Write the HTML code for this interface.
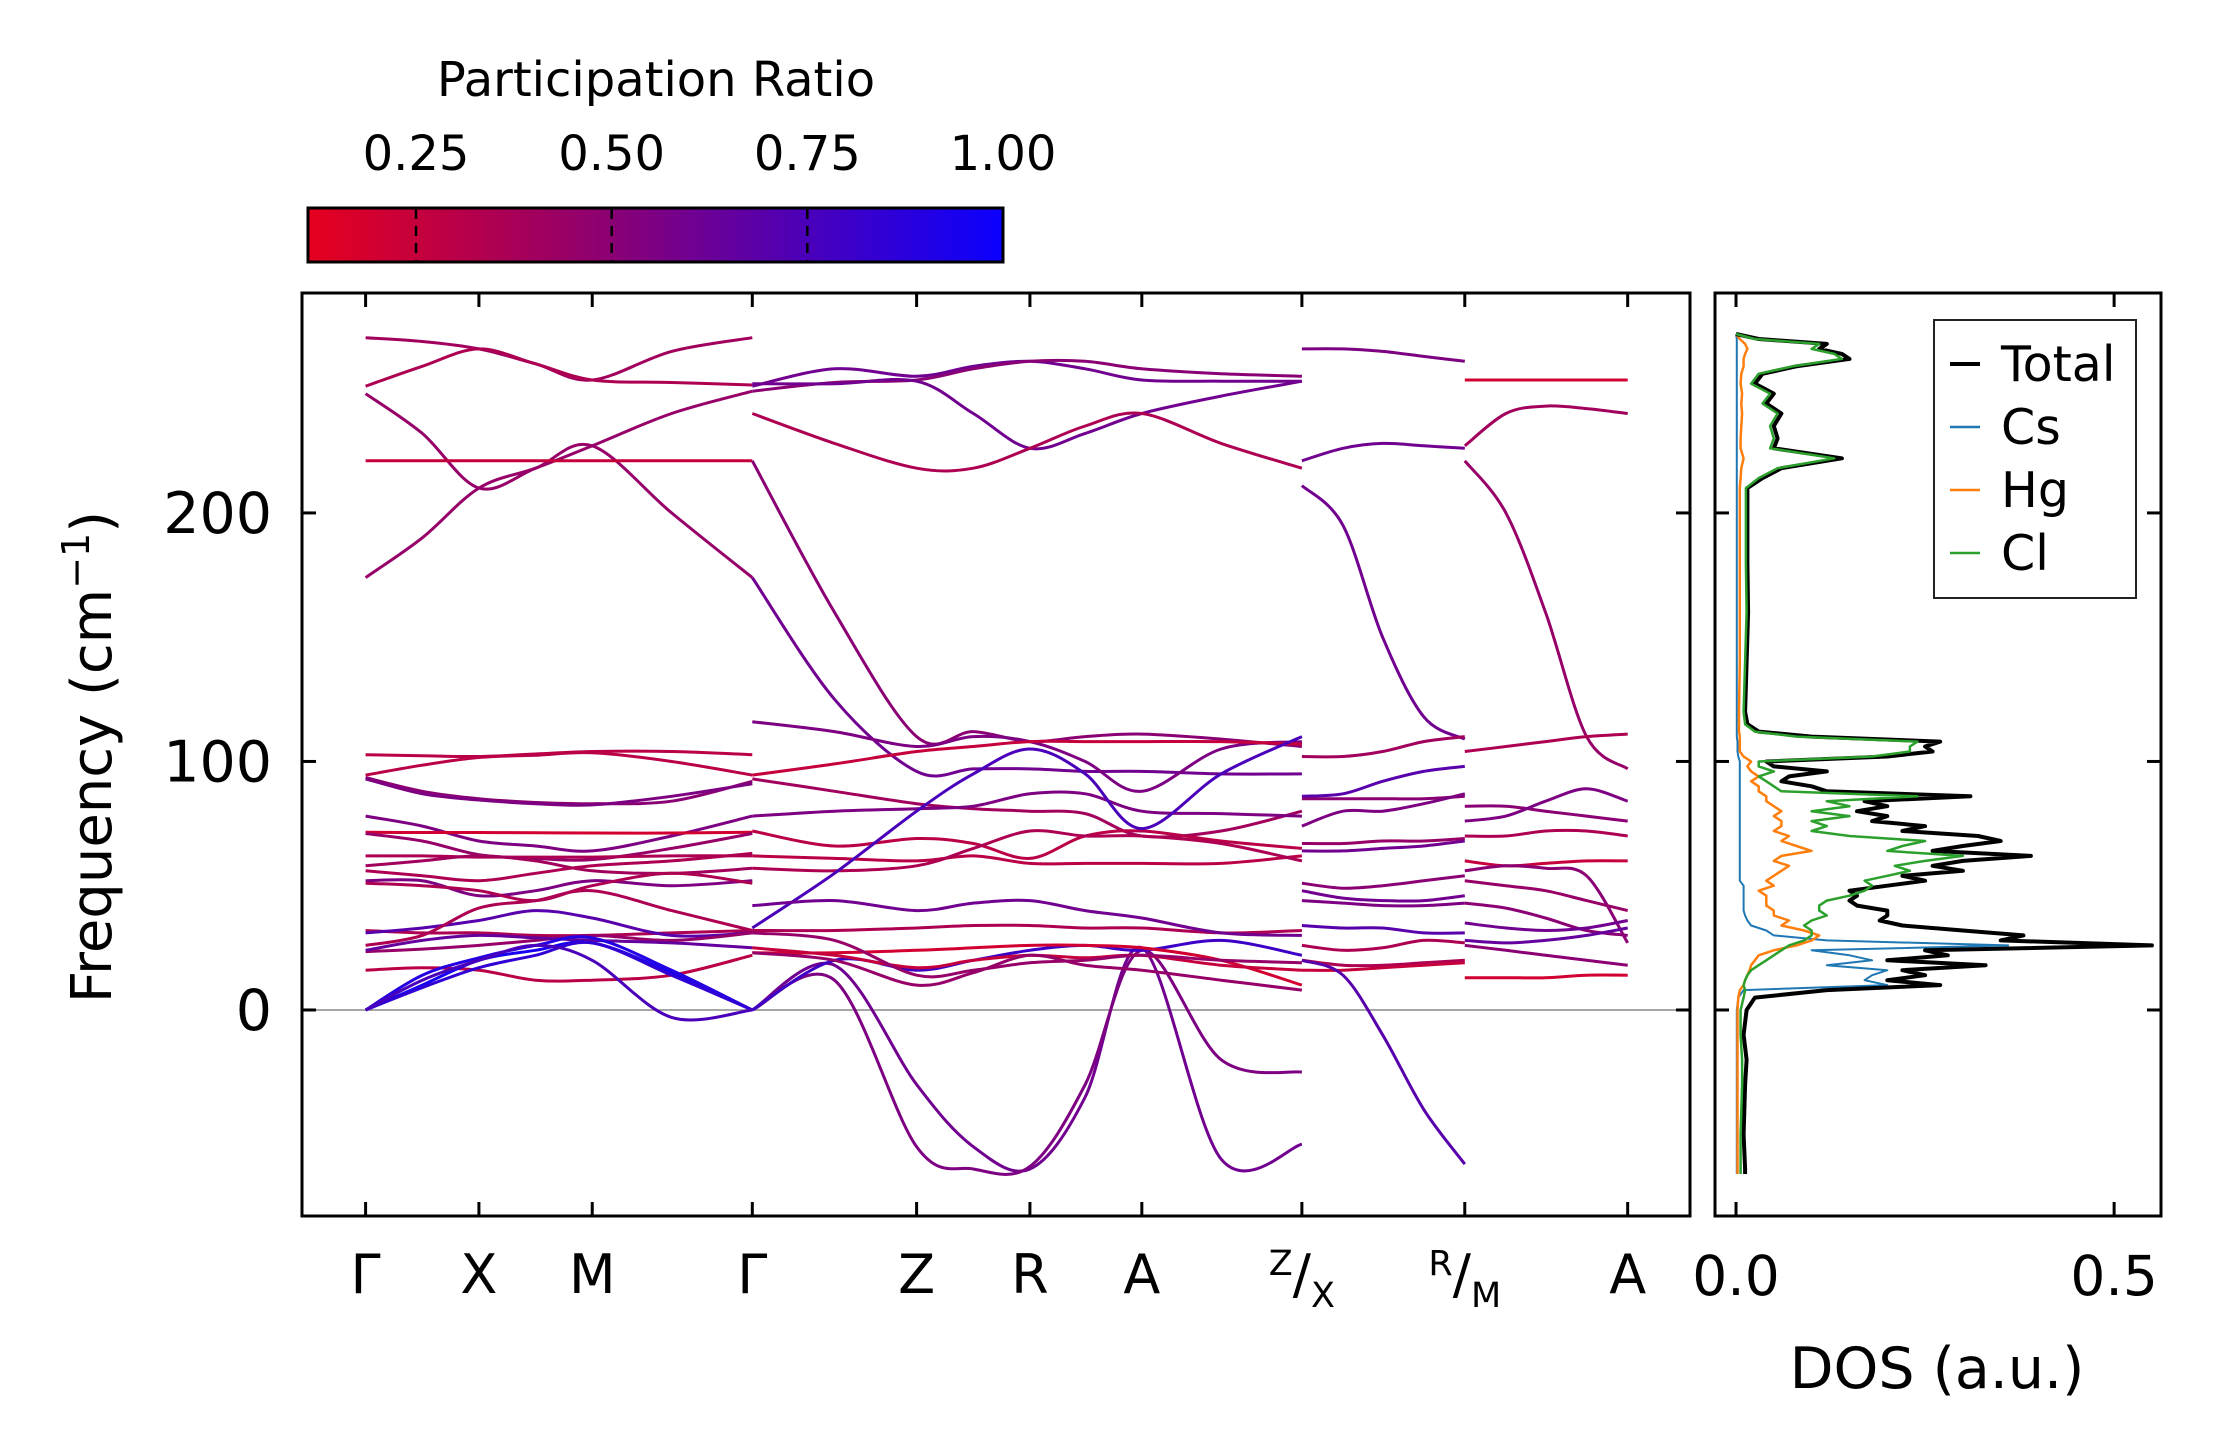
<!DOCTYPE html>
<html><head><meta charset="utf-8">
<style>
html,body{margin:0;padding:0;background:#fff;}
svg{display:block;font-family:"DejaVu Sans","Liberation Sans",sans-serif;}
</style></head>
<body>
<svg id="fig" width="2222" height="1455" viewBox="0 0 2222 1455" xmlns="http://www.w3.org/2000/svg">
  <defs>
    <linearGradient id="cbgrad" x1="0" x2="1" y1="0" y2="0">
      <stop offset="0" stop-color="#e6001e"/>
      <stop offset="0.42" stop-color="#8e0070"/>
      <stop offset="1" stop-color="#0a00ff"/>
    </linearGradient>
    <clipPath id="mainclip"><rect x="302" y="293" width="1388" height="923"/></clipPath>
    <clipPath id="dosclip"><rect x="1715" y="293" width="446" height="923"/></clipPath>
  </defs>
  <g id="colorbar">
    <text x="656" y="96" font-size="48" text-anchor="middle">Participation Ratio</text>
    <rect x="308" y="208" width="695" height="54" fill="url(#cbgrad)" stroke="#000" stroke-width="3"/>
    <g id="cbticks"></g>
  </g>
  <g id="main"></g>
  <g id="dos"></g>
</svg>
<script>
// ---------- Data ----------
var cbTicks = [0.25, 0.50, 0.75, 1.00];
var cbTickLabels = ["0.25", "0.50", "0.75", "1.00"];
var kTickPos = [0, 0.8, 1.6, 2.73, 3.89, 4.69, 5.48, 6.61, 7.76, 8.91];
var kTickLabels = ["Γ", "X", "M", "Γ", "Z", "R", "A", "Z/X", "R/M", "A"];
var yTicks = [0, 100, 200];
var dosTicks = [0.0, 0.5];
var dosTickLabels = ["0.0", "0.5"];

// k-sample positions of each path
var path1K = [0, 0.4, 0.8, 1.2, 1.6, 2.16, 2.73];
var path2K = [2.73, 3.31, 3.89, 4.29, 4.69, 5.08, 5.48, 6.04, 6.61];
var path3K = [6.61, 6.9, 7.18, 7.47, 7.76];
var path4K = [7.76, 8.05, 8.33, 8.62, 8.91];

// band frequencies (cm^-1) along each path
var path1Bands = [
 [270.5,269,266,260,253.5,265,270.5],[251,259,266,260,253.5,252.5,251.5],
 [248,232,210,218,227,240,249],[174,190,210,218,227,200,174],[221,221,221,221,221,221,221],
 [102.7,102.3,102,103,104,104,102.7],[94.5,98.5,101.6,102.5,103.5,100,94.5],
 [93.5,88,85,83.5,83,84,92],[93,87,84.5,83,82.5,86,91],[78,74,68,66,64,70,78],
 [71.5,71.4,71.4,71.3,71.2,71.2,71.5],[71,68,62.5,61,60.5,65,71],[62,62,61.5,61.5,61.5,62,62],
 [58,60,62,60,56,55,57],[56,54,52,55,58,60,63],[52,52,46,48,52,50,52],[51,50,48,44,50,55,51],
 [32,31,31,30,30,31,32],[31,33,36,40,37,30,31],[26,30,41,44,48,40,32],[23.5,24.5,26,28,30,28,31],
 [24,28,30,29,28,27,25],[16,17,16,12,12,14,22],[0,10,20,24,27,15,0],[0,14,21,26,29,16,0],
 [0,9,17,22,27,14,0],[0,12,20,26,20,-3,0]
];
var path1Ratio = [0.4,0.35,0.45,0.45,0.25,0.3,0.3,0.5,0.55,0.55,0.2,0.45,0.35,0.4,0.35,0.55,0.35,0.35,0.7,0.35,0.45,0.65,0.3,0.95,0.9,0.85,0.75];

var path2Bands = [
 [251,258,255,259,261,258,253.5,253,253],[249,252.5,253.5,258,261,261,258,256,255],
 [252,252,253,240,226,232,240,247,253],[240,228,218,218,226,235,240,228,218],
 [221,160,110,112,108,110,111,109,106],[174,125,96,97,97,96,96,95,95],
 [116,112,106,110,108,100,88,105,108],[94.5,99,104,106,108,108,108,108,107],
 [93,88,83,81,80,79,70,72,80],[78,80,81,82,87,87,80,79,78],[72,66,69,67,61,70,72,68,65],
 [62,61,60,62,59,59,59,59,62],[57,56,58,65,72,70,70,67,60],[33,55,80,95,105,95,73,95,110],
 [0,18,-30,-55,-64,-35,25,-60,-54],[0,12,-55,-64,-63,-30,24,-20,-25],
 [0,20,16,20,24,26,24,28,22],[23,23,24,25,26,26,25,20,10],[32,32,33,34,34,33,33,31,32],
 [25,22,17,20,22,21,22,18,16],[31,28,14,16,19,20,22,20,19],[42,44,40,43,44,40,37,31,30],
 [23,20,10,15,22,18,16,12,8]
];
var path2Ratio = [0.6,0.5,0.6,0.35,0.5,0.6,0.55,0.25,0.4,0.55,0.3,0.3,0.35,0.75,0.6,0.55,0.8,0.2,0.35,0.25,0.45,0.6,0.45];

var path3Bands = [
 [266,266,265,263,261],[221,226,228,227,226],[211,195,150,118,109],[102,102,104,108,110],
 [86,87,92,96,98],[85,85,85,85,86],[74,80,80,83,87],[67,67,68,68,69],[64,64,65,66,68],
 [51,49,50,52,54],[48,45,44,44,46],[44,43,42,42,43],[34,33,33,31,31],[26,24,25,28,27],
 [20,18,18,19,20],[16,16,17,18,19],[20,14,-10,-40,-62]
];
var path3Ratio = [0.55,0.6,0.6,0.4,0.7,0.5,0.55,0.45,0.6,0.5,0.6,0.55,0.7,0.35,0.35,0.25,0.7];

var path4Bands = [
 [253.5,253.5,253.5,253.5,253.5],[227,240,243,242,240],[221,200,160,110,97],[104,106,108,110,111],
 [82,82,80,78,76],[76,78,84,89,84],[70,70,72,72,70],[60,58,59,60,60],[56,58,57,54,27],
 [52,50,48,44,40],[43,41,37,32,30],[35,33,32,33,36],[28,27,28,30,33],[26,24,22,20,18],[13,13,13,14,14]
];
var path4Ratio = [0.2,0.4,0.45,0.35,0.5,0.55,0.35,0.25,0.5,0.45,0.5,0.6,0.65,0.5,0.2];

// DOS data
var dosFreq = [-66,-64,-50,-30,-20,-10,0,5,8,10,12,14,16,18,20,22,24,26,28,30,32,34,36,38,40,42,44,46,48,50,52,54,56,58,60,62,64,66,68,70,72,74,76,78,80,82,84,86,88,90,92,94,96,98,100,102,104,106,108,110,112,115,120,140,160,180,200,210,214,218,222,226,230,235,240,244,248,252,256,259,262,264,266,268,270,272];
var dosTotal = [0.012,0.012,0.01,0.012,0.014,0.01,0.014,0.025,0.12,0.27,0.2,0.25,0.22,0.33,0.2,0.28,0.25,0.55,0.35,0.38,0.3,0.22,0.19,0.2,0.2,0.16,0.15,0.16,0.15,0.2,0.25,0.22,0.3,0.26,0.3,0.39,0.26,0.3,0.35,0.32,0.22,0.25,0.18,0.2,0.16,0.2,0.17,0.31,0.12,0.1,0.06,0.07,0.12,0.05,0.04,0.2,0.26,0.25,0.27,0.1,0.03,0.015,0.012,0.014,0.016,0.015,0.015,0.015,0.035,0.06,0.14,0.05,0.055,0.05,0.06,0.04,0.05,0.025,0.035,0.08,0.15,0.14,0.11,0.12,0.03,0.0];
var dosCs = [0.001,0.001,0.001,0.001,0.001,0.001,0.001,0.003,0.01,0.2,0.17,0.18,0.2,0.12,0.18,0.15,0.1,0.36,0.12,0.05,0.04,0.02,0.015,0.012,0.01,0.01,0.01,0.01,0.01,0.01,0.005,0.005,0.005,0.005,0.005,0.005,0.005,0.005,0.005,0.005,0.005,0.005,0.005,0.005,0.005,0.005,0.005,0.005,0.005,0.005,0.005,0.005,0.005,0.005,0.005,0.003,0.002,0.002,0.002,0.001,0.001,0.001,0.001,0.001,0.001,0.001,0.001,0.001,0.001,0.001,0.001,0.001,0.001,0.001,0.001,0.001,0.001,0.001,0.001,0.001,0.001,0.001,0.001,0.001,0.001,0.0];
var dosHg = [0.002,0.002,0.002,0.002,0.002,0.002,0.002,0.003,0.005,0.01,0.012,0.015,0.018,0.02,0.025,0.03,0.05,0.08,0.1,0.11,0.09,0.06,0.07,0.05,0.05,0.04,0.04,0.04,0.03,0.05,0.04,0.05,0.06,0.07,0.05,0.06,0.1,0.08,0.06,0.07,0.05,0.06,0.06,0.05,0.06,0.05,0.04,0.04,0.03,0.03,0.02,0.03,0.02,0.015,0.02,0.01,0.005,0.005,0.005,0.005,0.004,0.004,0.004,0.005,0.005,0.005,0.005,0.005,0.006,0.007,0.01,0.006,0.006,0.007,0.008,0.007,0.008,0.006,0.007,0.01,0.01,0.012,0.015,0.012,0.005,0.0];
var dosCl = [0.006,0.006,0.006,0.008,0.008,0.006,0.006,0.01,0.012,0.01,0.012,0.015,0.02,0.03,0.04,0.05,0.06,0.07,0.09,0.1,0.1,0.09,0.1,0.12,0.11,0.11,0.12,0.15,0.17,0.18,0.17,0.2,0.23,0.21,0.25,0.3,0.2,0.22,0.25,0.15,0.1,0.12,0.1,0.15,0.1,0.15,0.12,0.24,0.06,0.05,0.04,0.03,0.05,0.03,0.03,0.18,0.23,0.23,0.24,0.08,0.025,0.012,0.01,0.012,0.014,0.013,0.013,0.013,0.03,0.055,0.13,0.045,0.05,0.045,0.055,0.035,0.045,0.02,0.03,0.075,0.14,0.13,0.1,0.11,0.025,0.0];

// ---------- Geometry ----------
var NS = "http://www.w3.org/2000/svg";
var MX0 = 302, MX1 = 1690, MY0 = 293, MY1 = 1216;
var KMIN = -0.449, KMAX = 9.35, FMIN = -82.9, FMAX = 288.5;
var DX0 = 1715, DX1 = 2161, DMIN = -0.0278, DMAX = 0.562;
var CBMIN = 0.112;
function xK(k){ return MX0 + (k - KMIN) / (KMAX - KMIN) * (MX1 - MX0); }
function yF(f){ return MY1 - (f - FMIN) / (FMAX - FMIN) * (MY1 - MY0); }
function xD(v){ return DX0 + (v - DMIN) / (DMAX - DMIN) * (DX1 - DX0); }
function xCB(v){ return 308 + (v - CBMIN) / (1.0 - CBMIN) * 695; }
function mk(tag, attrs, parent){ var e = document.createElementNS(NS, tag); for (var a in attrs) e.setAttribute(a, attrs[a]); parent.appendChild(e); return e; }
function cmap(v){
  var t = Math.max(0, Math.min(1, (v - CBMIN) / (1 - CBMIN)));
  var a, b, u;
  if (t < 0.42){ a=[230,0,30]; b=[142,0,112]; u=t/0.42; } else { a=[142,0,112]; b=[10,0,255]; u=(t-0.42)/0.58; }
  return "rgb(" + Math.round(a[0]+(b[0]-a[0])*u) + "," + Math.round(a[1]+(b[1]-a[1])*u) + "," + Math.round(a[2]+(b[2]-a[2])*u) + ")";
}
function smoothPath(pts){
  var d = "M" + pts[0][0].toFixed(1) + "," + pts[0][1].toFixed(1);
  for (var i = 0; i < pts.length - 1; i++){
    var p0 = pts[Math.max(0, i-1)], p1 = pts[i], p2 = pts[i+1], p3 = pts[Math.min(pts.length-1, i+2)];
    var c1x = p1[0] + (p2[0]-p0[0])/6, c1y = p1[1] + (p2[1]-p0[1])/6;
    var c2x = p2[0] - (p3[0]-p1[0])/6, c2y = p2[1] - (p3[1]-p1[1])/6;
    d += " C" + c1x.toFixed(1)+","+c1y.toFixed(1)+" "+c2x.toFixed(1)+","+c2y.toFixed(1)+" "+p2[0].toFixed(1)+","+p2[1].toFixed(1);
  }
  return d;
}

// ---------- Colorbar ticks ----------
var cbg = document.getElementById("cbticks");
for (var i = 0; i < cbTicks.length; i++){
  var cx = xCB(cbTicks[i]);
  if (cbTicks[i] < 0.99){
    var tl = mk("line", {x1:cx, x2:cx, y1:209, y2:261, stroke:"#000", "stroke-width":2.5, "stroke-dasharray":"10,7"}, cbg);
    
    
  }
  var tt = mk("text", {x:cx, y:170, "font-size":48, "text-anchor":"middle"}, cbg);
  tt.textContent = cbTickLabels[i];
  
  
}

// ---------- Main panel ----------
var main = document.getElementById("main");
var bandsG = mk("g", {"clip-path":"url(#mainclip)"}, main);


var zl = mk("line", {x1:MX0, x2:MX1, y1:yF(0), y2:yF(0), stroke:"#888", "stroke-width":1.5}, bandsG);


var paths = [[path1K,path1Bands,path1Ratio],[path2K,path2Bands,path2Ratio],[path3K,path3Bands,path3Ratio],[path4K,path4Bands,path4Ratio]];
for (var p = 0; p < paths.length; p++){
  var ks = paths[p][0], bands = paths[p][1], rat = paths[p][2];
  for (var b = 0; b < bands.length; b++){
    var pts = [];
    for (var j = 0; j < ks.length; j++) pts.push([xK(ks[j]), yF(bands[b][j])]);
    var el = mk("path", {d:smoothPath(pts), fill:"none", stroke:cmap(rat[b]), "stroke-width":3, "stroke-linecap":"butt"}, bandsG);
    
    
  }
}
var frame = mk("rect", {x:MX0, y:MY0, width:MX1-MX0, height:MY1-MY0, fill:"none", stroke:"#000", "stroke-width":3}, main);


for (var i = 0; i < kTickPos.length; i++){
  var x = xK(kTickPos[i]);
  mk("line", {x1:x, x2:x, y1:MY1, y2:MY1-14, stroke:"#000", "stroke-width":3}, main);
  mk("line", {x1:x, x2:x, y1:MY0, y2:MY0+14, stroke:"#000", "stroke-width":3}, main);
  var lab = kTickLabels[i];
  var t = mk("text", {x:x, y:1293, "font-size":54, "text-anchor":"middle"}, main);
  if (lab.indexOf("/") > 0){
    var parts = lab.split("/");
    var s1 = mk("tspan", {"font-size":35, dy:-18}, t); s1.textContent = parts[0];
    var s2 = mk("tspan", {dy:18}, t); s2.textContent = "/";
    var s3 = mk("tspan", {"font-size":35, dy:14}, t); s3.textContent = parts[1];
  } else { t.textContent = lab; }
  
  
}
for (var i = 0; i < yTicks.length; i++){
  var y = yF(yTicks[i]);
  mk("line", {x1:MX0, x2:MX0+14, y1:y, y2:y, stroke:"#000", "stroke-width":3}, main);
  mk("line", {x1:MX1, x2:MX1-14, y1:y, y2:y, stroke:"#000", "stroke-width":3}, main);
  mk("line", {x1:DX0, x2:DX0+14, y1:y, y2:y, stroke:"#000", "stroke-width":3}, main);
  mk("line", {x1:DX1, x2:DX1-14, y1:y, y2:y, stroke:"#000", "stroke-width":3}, main);
  var yt = mk("text", {x:272, y:y+20, "font-size":57, "text-anchor":"end"}, main);
  yt.textContent = String(yTicks[i]);
  
  
}
var ylab = mk("text", {x:0, y:0, "font-size":56, "text-anchor":"middle", transform:"translate(111,757) rotate(-90)"}, main);
ylab.innerHTML = 'Frequency (cm<tspan dy="-22" font-size="38">−1</tspan><tspan dy="22">)</tspan>';



// ---------- DOS panel ----------
var dos = document.getElementById("dos");
var dg = mk("g", {"clip-path":"url(#dosclip)"}, dos);
var series = [[dosCs,"#1f77b4",2],[dosHg,"#ff7f0e",2.5],[dosTotal,"#000",4],[dosCl,"#2ca02c",2.5]];
var sNames = ["dos-cs","dos-hg","dos-total","dos-cl"];
for (var s = 0; s < series.length; s++){
  var pts = [];
  for (var j = 0; j < dosFreq.length; j++) pts.push(xD(series[s][0][j]).toFixed(1) + "," + yF(dosFreq[j]).toFixed(1));
  var pl = mk("polyline", {points:pts.join(" "), fill:"none", stroke:series[s][1], "stroke-width":series[s][2], "stroke-linejoin":"round"}, dg);
  
  
}
var dframe = mk("rect", {x:DX0, y:MY0, width:DX1-DX0, height:MY1-MY0, fill:"none", stroke:"#000", "stroke-width":3}, dos);


for (var i = 0; i < dosTicks.length; i++){
  var x = xD(dosTicks[i]);
  mk("line", {x1:x, x2:x, y1:MY1, y2:MY1-14, stroke:"#000", "stroke-width":3}, dos);
  mk("line", {x1:x, x2:x, y1:MY0, y2:MY0+14, stroke:"#000", "stroke-width":3}, dos);
  var dt = mk("text", {x:x, y:1295, "font-size":55, "text-anchor":"middle"}, dos);
  dt.textContent = dosTickLabels[i];
  
  
}
var dlab = mk("text", {x:1937, y:1388, "font-size":57, "text-anchor":"middle"}, dos);
dlab.textContent = "DOS (a.u.)";



// legend
var legendNames = ["Total","Cs","Hg","Cl"];
var legendColors = ["#000","#1f77b4","#ff7f0e","#2ca02c"];
var lg = mk("g", {}, dos);


mk("rect", {x:1934, y:320, width:202, height:278, fill:"#fff", stroke:"#222", "stroke-width":2}, lg);
for (var i = 0; i < legendNames.length; i++){
  var yy = 364 + i * 63;
  mk("line", {x1:1950, x2:1980, y1:yy, y2:yy, stroke:legendColors[i], "stroke-width": i==0?4:2.5}, lg);
  var lt = mk("text", {x:2001, y:yy+17, "font-size":49}, lg);
  lt.textContent = legendNames[i];
  
  
}
</script>
</body></html>
